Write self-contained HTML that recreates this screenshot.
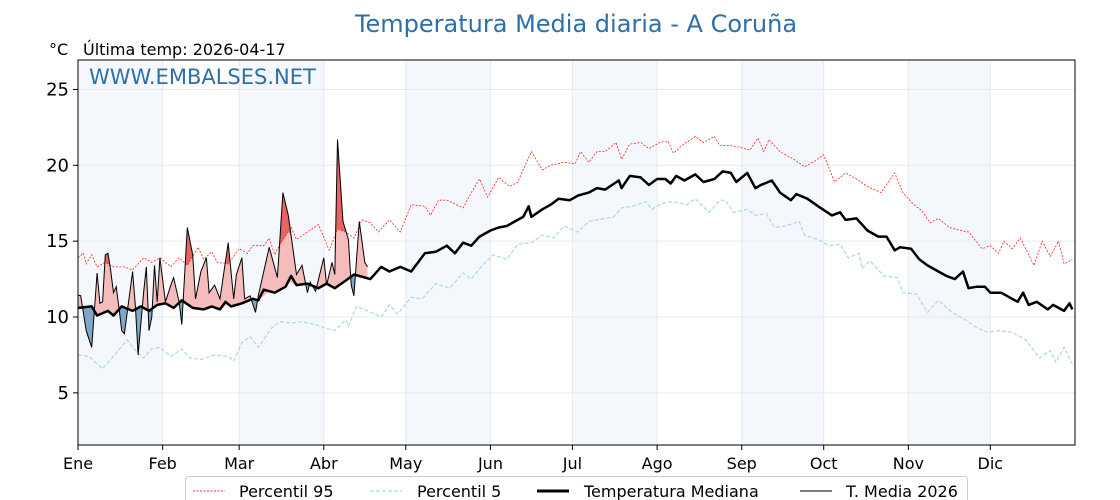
<!DOCTYPE html>
<html><head><meta charset="utf-8"><style>
html,body{margin:0;padding:0;background:#fff;}
svg{display:block;font-family:"DejaVu Sans","Liberation Sans",sans-serif;}
</style></head><body>
<svg id="chart" width="1120" height="500" viewBox="0 0 1120 500">
<defs></defs>
<text x="576" y="32" text-anchor="middle" font-size="24" fill="#2f6fa8">Temperatura Media diaria - A Coruña</text>
<text x="49" y="55" font-size="16" fill="#000">°C</text>
<text x="83" y="55" font-size="16" fill="#000">Última temp: 2026-04-17</text>
<g id="bands"></g>
<g id="grid"></g>
<g id="series"></g>
<text x="89" y="84" font-size="21" fill="#2f6fa8">WWW.EMBALSES.NET</text>
<rect x="78" y="60" width="997" height="385" fill="none" stroke="#000" stroke-width="1"/>
<g id="axes"></g>
<g>
<rect x="185.5" y="476.5" width="782" height="30" rx="3" fill="#fff" stroke="#ccc"/>
<line x1="193" y1="491" x2="225" y2="491" stroke="#e33" stroke-width="1" stroke-dasharray="2,1.5"/>
<text x="239" y="497" font-size="16">Percentil 95</text>
<line x1="370" y1="491" x2="402" y2="491" stroke="#add8e6" stroke-width="1.3" stroke-dasharray="4,2"/>
<text x="417" y="497" font-size="16">Percentil 5</text>
<line x1="537" y1="491" x2="569" y2="491" stroke="#000" stroke-width="3"/>
<text x="584" y="497" font-size="16">Temperatura Mediana</text>
<line x1="800" y1="491" x2="832" y2="491" stroke="#000" stroke-width="1"/>
<text x="846" y="497" font-size="16">T. Media 2026</text>
</g>
</svg>
<script>
const months = ["Ene","Feb","Mar","Abr","May","Jun","Jul","Ago","Sep","Oct","Nov","Dic"];
const monthStart = [0,31,59,90,120,151,181,212,243,273,304,334];
const yTicks = [5,10,15,20,25];
const medDays = [0,5,7,11,13,16,20,23,26,29,32,35,38,42,46,49,52,54,56,60,64,66,68,72,76,78,80,84,88,91,94,98,101,107,111,114,118,122,127,131,135,138,141,144,147,151,154,157,160,163,165,166,170,173,176,180,183,187,190,193,198,199,202,206,209,212,215,217,219,222,226,229,233,236,239,241,245,248,250,254,257,261,263,267,271,276,279,281,285,289,293,296,299,301,305,308,311,315,318,321,324,326,329,332,334,338,341,344,346,348,351,355,357,361,363,364];
const median = [10.6,10.7,10.1,10.4,10.1,10.7,10.4,10.7,10.4,10.8,10.9,10.6,11.1,10.6,10.5,10.7,10.5,11,10.7,10.9,11.2,11.1,11.8,11.6,12,12.7,12.1,12.2,11.9,12.2,11.9,12.4,12.8,12.5,13.3,13,13.3,13,14.2,14.3,14.7,14.2,14.9,14.7,15.3,15.7,15.9,16,16.3,16.6,17.3,16.6,17.1,17.4,17.8,17.7,18,18.2,18.5,18.4,19,18.5,19.3,19.2,18.7,19.1,19.1,18.8,19.3,19,19.4,18.9,19.1,19.6,19.5,18.9,19.5,18.5,18.7,19,18.2,17.7,18.1,17.8,17.3,16.7,16.9,16.4,16.5,15.7,15.3,15.3,14.4,14.6,14.5,13.8,13.4,13,12.7,12.5,13,11.9,12,12,11.6,11.6,11.3,11,11.6,10.8,11,10.5,10.8,10.4,10.9,10.5];
const p95Days = [0,2,3,5,7,10,13,17,20,24,27,30,34,37,40,44,46,49,51,55,59,62,64,68,70,72,74,78,80,84,88,92,95,98,101,104,107,110,114,118,122,127,129,132,135,141,144,147,150,154,158,161,166,170,173,178,182,184,187,190,193,197,199,202,206,209,213,216,218,221,226,229,233,235,239,242,246,249,251,253,257,262,266,270,273,277,281,285,289,294,299,302,306,309,312,315,319,323,326,331,334,337,339,342,345,350,353,356,359,361,364];
const p95 = [13.9,14.2,13.5,14.1,13.3,13.6,13.3,13.3,13.1,13.9,13.6,13.9,13.3,13.9,13.4,14.6,13.8,14.3,13.6,13.5,14.5,14.2,14.7,14.7,15.2,14.1,14.8,15.9,15.1,15.6,16.1,14.4,15.8,15.6,15.2,16.4,16.2,15.6,16.4,15.6,17.4,17.3,16.7,17.7,17.7,17.2,18.2,19.1,17.9,19.2,18.6,18.9,20.9,19.7,20,20.2,20.1,20.9,20.2,20.9,20.9,21.5,20.4,21.4,21.5,21.1,21.5,21.6,20.8,21.3,21.9,21.5,21.9,21.3,21.3,21.2,21,21.8,20.9,21.7,20.9,20.4,19.9,20.3,20.7,18.9,19.5,19.1,18.6,18.2,19.5,18.2,17.4,17,16.2,16.5,15.9,15.7,15.6,14.5,14.7,14.2,15,14.5,15.2,13.4,15,14,15,13.5,13.8];
const p5Days = [0,4,9,12,18,21,24,27,30,34,38,41,45,50,55,57,60,63,66,71,74,78,82,87,90,94,98,99,102,106,111,114,117,122,126,131,136,141,144,148,152,157,161,166,170,174,178,183,187,190,196,199,203,208,210,214,218,223,226,231,235,237,240,245,248,252,255,259,264,266,271,275,279,282,286,287,290,295,300,302,307,311,315,320,325,329,333,337,342,347,352,356,358,361,364];
const p5 = [7.5,7.4,6.6,7.2,8.5,7.8,7.3,7.9,8,7.4,7.9,7.3,7.2,7.5,7.4,7.1,8.3,8.7,8,9.3,9.7,9.6,9.7,9.5,9.3,9.1,9.8,9.4,10.7,10.4,10,10.8,10.2,11.3,11.2,12.2,11.9,12.9,12.5,13.4,14.1,13.8,14.8,14.9,15.4,15.2,16,15.6,16.3,16.4,16.6,17.2,17.3,17.6,17.1,17.5,17.6,17.4,17.8,16.9,17.7,17.7,16.9,17.1,16.7,16.8,15.9,16,16.3,15.4,15.1,14.7,14.8,13.9,14.2,13.2,13.7,12.7,12.6,11.6,11.5,10.3,11.1,10.3,9.8,9.3,9,9.1,9,8.5,7.3,7.8,7,8,6.9];
const t2026Days = [0,1,3,5,7,8,9,10,11,12,13,14,15,16,17,18,20,21,22,24,25,26,27,28,29,30,32,34,35,37,38,40,42,43,45,47,48,50,52,55,57,58,60,61,63,65,66,70,73,75,77,80,82,84,85,87,90,91,93,94,95,97,99,100,101,103,105,106];
const t2026 = [11.45,11.4,9.1,8.0,12.9,10.9,11,14.1,14.2,13,11.6,12,10.6,9.1,8.9,10.3,13,10.7,7.5,11.6,13.3,9.1,10,13.4,11,13.9,11,12.1,12.6,11,9.5,15.9,14.1,11.2,13,13.9,11.6,12.1,11.2,14.9,11.2,12.8,13.9,11.2,11.4,10.3,11.4,14.6,12.6,18.2,16.7,12.8,13.4,11.6,12.3,11.7,13.9,12.1,13.6,12.8,21.7,16.3,15.1,12.1,11.4,16.3,13.6,13.3];

const X0=78,X1=1075,Y0=60,Y1=445;
const x = d => X0 + d*(X1-X0)/365;
const y = v => 317 - (v-10)*15.17;
const NS="http://www.w3.org/2000/svg";
function mk(tag,attrs,parent){const e=document.createElementNS(NS,tag);for(const k in attrs)e.setAttribute(k,attrs[k]);parent.appendChild(e);return e;}
const bands=document.getElementById('bands'),grid=document.getElementById('grid'),series=document.getElementById('series'),axes=document.getElementById('axes');
const defs=document.querySelector('defs');

for(let i=0;i<12;i+=2){
  const end = i+1<12 ? monthStart[i+1] : 365;
  const r=mk('rect',{x:x(monthStart[i]),y:Y0,width:x(end)-x(monthStart[i]),height:Y1-Y0,fill:'#f4f8fc'},bands);
  
  
}
monthStart.forEach((d,i)=>{
  const l=mk('line',{x1:x(d),x2:x(d),y1:Y0,y2:Y1,stroke:'#e6eaee','stroke-width':1},grid);
  
  
  const t=mk('line',{x1:x(d),x2:x(d),y1:Y1,y2:Y1+5,stroke:'#000'},axes);
  
  
  const tx=mk('text',{x:x(d),y:Y1+24,'text-anchor':'middle','font-size':16},axes);
  tx.textContent=months[i];
  
  
});
yTicks.forEach(v=>{
  const l=mk('line',{x1:X0,x2:X1,y1:y(v),y2:y(v),stroke:'#e6eaee'},grid);
  
  
  const t=mk('line',{x1:X0-5,x2:X0,y1:y(v),y2:y(v),stroke:'#000'},axes);
  
  
  const tx=mk('text',{x:X0-9,y:y(v)+6,'text-anchor':'end','font-size':18},axes);
  tx.textContent=v;
  
  
});

function interp(days,vals,d){
  for(let i=0;i<days.length-1;i++){ if(d>=days[i]&&d<=days[i+1]){const f=(d-days[i])/(days[i+1]-days[i]);return vals[i]+f*(vals[i+1]-vals[i]);} }
  return vals[vals.length-1];
}
const pts=(days,vals)=>days.map((d,i)=>x(d).toFixed(1)+','+y(vals[i]).toFixed(1)).join(' ');

const medAt2026 = t2026Days.map(d=>interp(medDays,median,d));
const p95At2026 = t2026Days.map(d=>interp(p95Days,p95,d));
const between = pts(t2026Days,t2026)+' '+t2026Days.slice().reverse().map((d,i)=>x(d).toFixed(1)+','+y(medAt2026[medAt2026.length-1-i]).toFixed(1)).join(' ');
const medLine = t2026Days.map((d,i)=>x(d).toFixed(1)+','+y(medAt2026[i]).toFixed(1)).join(' L');
const p95Line = t2026Days.map((d,i)=>x(d).toFixed(1)+','+y(p95At2026[i]).toFixed(1)).join(' L');
const xa=x(t2026Days[0]),xb=x(t2026Days[t2026Days.length-1]);
const cpA=mk('clipPath',{id:'above'},defs); mk('path',{d:'M'+medLine+' L'+xb+','+Y0+' L'+xa+','+Y0+' Z'},cpA);
const cpB=mk('clipPath',{id:'below'},defs); mk('path',{d:'M'+medLine+' L'+xb+','+Y1+' L'+xa+','+Y1+' Z'},cpB);
const cpC=mk('clipPath',{id:'above95'},defs); mk('path',{d:'M'+p95Line+' L'+xb+','+Y0+' L'+xa+','+Y0+' Z'},cpC);
let f=mk('polygon',{points:between,fill:'#f5bcbc','clip-path':'url(#above)'},series);


f=mk('polygon',{points:between,fill:'#e86464','clip-path':'url(#above95)'},series);


f=mk('polygon',{points:between,fill:'#7fa7c9','clip-path':'url(#below)'},series);



let l=mk('polyline',{points:pts(p95Days,p95),fill:'none',stroke:'#ff2020','stroke-width':0.8,'stroke-dasharray':'2,1.5'},series);


l=mk('polyline',{points:pts(p5Days,p5),fill:'none',stroke:'#add8e6','stroke-width':1.2,'stroke-dasharray':'4,2'},series);


l=mk('polyline',{points:pts(medDays,median),fill:'none',stroke:'#000','stroke-width':2.5,'stroke-linejoin':'round'},series);


l=mk('polyline',{points:pts(t2026Days,t2026),fill:'none',stroke:'#000','stroke-width':1},series);


</script>
</body></html>
